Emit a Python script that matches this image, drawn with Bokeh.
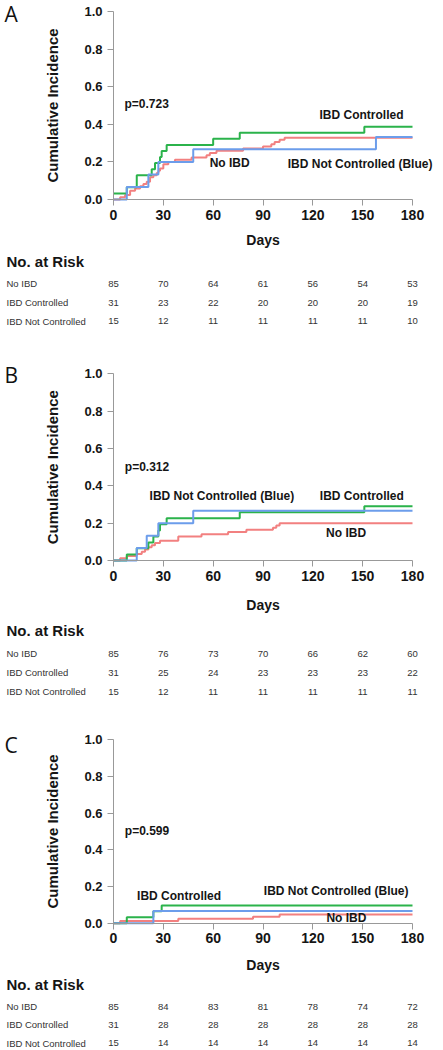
import math
from bokeh.plotting import figure
from bokeh.models import Range1d, FixedTicker, PrintfTickFormatter, LinearAxis
from bokeh.embed import file_html
from bokeh.resources import INLINE
from bokeh.core.properties import value

# ---------------- data ----------------
DAYS = [0, 30, 60, 90, 120, 150, 180]
Y_TICKS = [0.0, 0.2, 0.4, 0.6, 0.8, 1.0]
GROUPS = ["No IBD", "IBD Controlled", "IBD Not Controlled"]
P_VALUES = ["p=0.723", "p=0.312", "p=0.599"]
PANELS = ["A", "B", "C"]

# Panel A cumulative incidence (step curves)
A_NOIBD_T = [0, 4, 7, 10, 13, 16, 18, 20, 22, 24, 26, 27, 28, 30, 33, 37, 47, 56, 58, 62, 78, 90, 95, 97, 100, 103, 180]
A_NOIBD_V = [0, 0.012, 0.024, 0.047, 0.059, 0.071, 0.082, 0.094, 0.118, 0.129, 0.141, 0.153, 0.165, 0.188, 0.2,
             0.212, 0.224, 0.235, 0.247, 0.259, 0.271, 0.282, 0.294, 0.306, 0.318, 0.329, 0.329]
A_CTRL_T = [0, 8, 14, 23, 25, 28, 29, 32, 60, 76, 151, 180]
A_CTRL_V = [0.032, 0.065, 0.129, 0.161, 0.194, 0.226, 0.258, 0.29, 0.323, 0.355, 0.387, 0.387]
A_NCTRL_T = [0, 8, 21, 27, 48, 158, 180]
A_NCTRL_V = [0, 0.067, 0.133, 0.2, 0.267, 0.333, 0.333]

# Panel B
B_NOIBD_T = [0, 4, 8, 14, 17, 19, 21, 23, 25, 28, 39, 53, 69, 80, 96, 98, 100, 180]
B_NOIBD_V = [0, 0.012, 0.024, 0.035, 0.047, 0.059, 0.071, 0.082, 0.094, 0.106, 0.129, 0.141, 0.153, 0.165,
             0.176, 0.188, 0.2, 0.2]
B_CTRL_T = [0, 8, 14, 21, 24, 27, 28, 32, 76, 151, 180]
B_CTRL_V = [0, 0.032, 0.065, 0.097, 0.129, 0.161, 0.194, 0.226, 0.258, 0.29, 0.29]
B_NCTRL_T = [0, 14, 20, 27, 48, 180]
B_NCTRL_V = [0, 0.067, 0.133, 0.2, 0.267, 0.267]

# Panel C
C_NOIBD_T = [0, 4, 39, 84, 100, 180]
C_NOIBD_V = [0, 0.012, 0.024, 0.035, 0.047, 0.047]
C_CTRL_T = [0, 8, 24, 29, 180]
C_CTRL_V = [0, 0.032, 0.065, 0.097, 0.097]
C_NCTRL_T = [0, 24, 180]
C_NCTRL_V = [0, 0.067, 0.067]

# Number at risk
A_RISK = [[85, 70, 64, 61, 56, 54, 53], [31, 23, 22, 20, 20, 20, 19], [15, 12, 11, 11, 11, 11, 10]]
B_RISK = [[85, 76, 73, 70, 66, 62, 60], [31, 25, 24, 23, 23, 23, 22], [15, 12, 11, 11, 11, 11, 11]]
C_RISK = [[85, 84, 83, 81, 78, 74, 72], [31, 28, 28, 28, 28, 28, 28], [15, 14, 14, 14, 14, 14, 14]]

# ---------------- geometry / style ----------------
W, H = 443, 1050
PX0 = 113                    # page x of day 0
PX_PER_DAY = (412 - 113) / 180
X_START = -PX0 / PX_PER_DAY
X_END = (W - PX0) / PX_PER_DAY
FONT = "Liberation Sans"
RED, GREEN, BLUE = "#F28080", "#2BB34B", "#6C9DEB"
TXT = "#151515"
TAB = "#333333"
LEFT_TXT = X_START + 6 / PX_PER_DAY

# per panel: page y of 1.0, page y of 0.0, letter y, Days y, header y, row ys
GEOM = {
    "A": dict(y1=11.0, y0=199.0, letter=13.5, days=239, header=261, rows=[283.3, 302.3, 320.7]),
    "B": dict(y1=373.3, y0=560.0, letter=374.5, days=604, header=630, rows=[653, 672, 691]),
    "C": dict(y1=739.3, y0=922.7, letter=744.0, days=964, header=984, rows=[1006, 1024.3, 1042.7]),
}
SERIES = {
    "A": [(A_NOIBD_T, A_NOIBD_V, RED), (A_CTRL_T, A_CTRL_V, GREEN), (A_NCTRL_T, A_NCTRL_V, BLUE)],
    "B": [(B_NOIBD_T, B_NOIBD_V, RED), (B_CTRL_T, B_CTRL_V, GREEN), (B_NCTRL_T, B_NCTRL_V, BLUE)],
    "C": [(C_NOIBD_T, C_NOIBD_V, RED), (C_CTRL_T, C_CTRL_V, GREEN), (C_NCTRL_T, C_NCTRL_V, BLUE)],
}
RISK = {"A": A_RISK, "B": B_RISK, "C": C_RISK}
LABELS = {
    "A": [(6.6, 0.51, P_VALUES[0]), (124, 0.447, "IBD Controlled"), (57.9, 0.193, "No IBD"),
          (104.9, 0.19, "IBD Not Controlled (Blue)")],
    "B": [(6.8, 0.503, P_VALUES[1]), (21.7, 0.348, "IBD Not Controlled (Blue)"),
          (124.2, 0.348, "IBD Controlled"), (128, 0.148, "No IBD")],
    "C": [(6.8, 0.505, P_VALUES[2]), (14.2, 0.151, "IBD Controlled"),
          (90.5, 0.173, "IBD Not Controlled (Blue)"), (128.2, 0.027, "No IBD")],
}

p = figure(width=W, height=H, x_range=Range1d(X_START, X_END), y_range=Range1d(H, 0),
           min_border=0, x_axis_location=None, y_axis_location=None,
           output_backend="svg", toolbar_location=None)
p.outline_line_color = None
p.grid.visible = False
p.background_fill_color = "white"
p.border_fill_color = "white"

for key in PANELS:
    g = GEOM[key]
    s = g["y0"] - g["y1"]
    p.extra_y_ranges[key] = Range1d((g["y0"] - H) / s, g["y0"] / s)

    for (t, v, c) in SERIES[key]:
        p.step(x=t, y=v, mode="after", line_color=c, line_width=2, y_range_name=key)

    xa = LinearAxis(y_range_name=key, fixed_location=0, ticker=FixedTicker(ticks=DAYS), bounds=(0, 180))
    ya = LinearAxis(y_range_name=key, fixed_location=0, ticker=FixedTicker(ticks=Y_TICKS), bounds=(0, 1),
                    formatter=PrintfTickFormatter(format="%.1f"))
    for ax in (xa, ya):
        ax.axis_line_color = "#999999"
        ax.major_tick_line_color = "#999999"
        ax.minor_tick_line_color = None
        ax.major_tick_in = 0
        ax.major_tick_out = 6
        ax.major_label_text_font = FONT
        ax.major_label_text_font_style = "bold"
        ax.major_label_text_color = TXT
    xa.major_label_text_font_size = "14px"
    xa.major_label_standoff = 4
    ya.major_label_text_font_size = "13px"
    ya.major_label_standoff = 5
    p.add_layout(xa, "below")
    p.add_layout(ya, "left")

    # texts inside the chart
    xs, ys, ts = zip(*LABELS[key])
    p.text(x=list(xs), y=list(ys), text=list(ts), text_font=value(FONT), text_font_style="bold",
           text_font_size="12px", text_color=TXT, text_baseline="middle", text_align="left",
           y_range_name=key)

    # axis titles and panel letter (page coordinates)
    p.text(x=[90], y=[g["days"]], text=["Days"], text_font=value(FONT), text_font_style="bold",
           text_font_size="14px", text_color=TXT, text_baseline="middle", text_align="center")
    p.text(x=[X_START + 52 / PX_PER_DAY], y=[(g["y0"] + g["y1"]) / 2], text=["Cumulative Incidence"],
           angle=math.pi / 2, text_font=value(FONT), text_font_style="bold", text_font_size="15px",
           text_color=TXT, text_baseline="middle", text_align="center")
    p.text(x=[X_START + 4 / PX_PER_DAY], y=[g["letter"]], text=[key], text_font=value("Open Sans"),
           text_font_size="21px", text_color="#111111", text_baseline="middle", text_align="left")

    # number at risk table
    p.text(x=[LEFT_TXT], y=[g["header"]], text=["No. at Risk"], text_font=value(FONT),
           text_font_style="bold", text_font_size="15px", text_color=TXT, text_baseline="middle")
    for gname, row, ry in zip(GROUPS, RISK[key], g["rows"]):
        p.text(x=[LEFT_TXT], y=[ry], text=[gname], text_font=value(FONT), text_font_size="9.5px",
               text_color=TAB, text_baseline="middle", text_align="left")
        p.text(x=DAYS, y=[ry] * len(DAYS), text=[str(n) for n in row], text_font=value(FONT),
               text_font_size="9.5px", text_color=TAB, text_baseline="middle", text_align="center")

open("out.html", "w").write(file_html(p, INLINE))
